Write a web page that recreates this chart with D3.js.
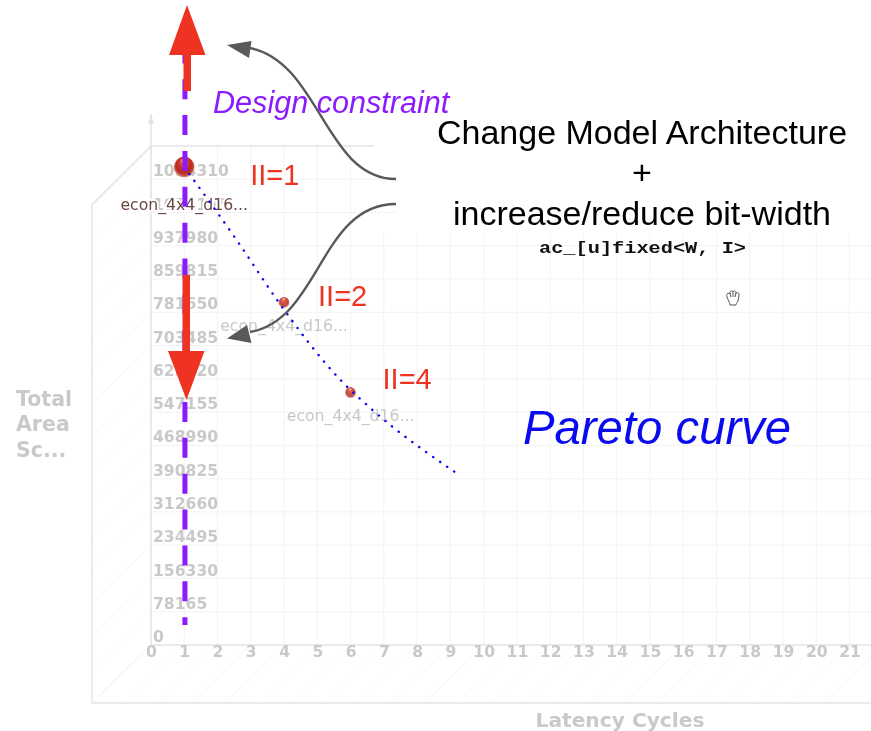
<!DOCTYPE html>
<html>
<head>
<meta charset="utf-8">
<script src="https://cdn.jsdelivr.net/npm/d3@7"></script>
<style>
  html, body { margin: 0; padding: 0; background: #fff; }
  svg { display: block; filter: blur(0.45px); }
</style>
</head>
<body>
<div id="chart"></div>
<script>
// ---- data
const latencyTicks = [0,1,2,3,4,5,6,7,8,9,10,11,12,13,14,15,16,17,18,19,20,21];
const areaTicks = [0,78165,156330,234495,312660,390825,468990,547155,625320,703485,781650,859815,937980,1016145,1094310];
const areaGrid = [...areaTicks, 1172475];

const pointLatency = [1, 4, 6];
const pointArea = [1123000, 805000, 593000];
const pointNames = ["econ_4x4_d16...", "econ_4x4_d16...", "econ_4x4_d16..."];
const pointII = ["II=1", "II=2", "II=4"];

const paretoLatency = [1, 2.62, 3.82, 5.74, 6.61, 9.2];
const paretoArea = [1123000, 946500, 807500, 619200, 555600, 403000];

const axisGrey = "#c9c9c9";
const red = "#ee3322";
const purple = "#8b1aff";

function draw() {

  //*** measurements
  const dimensions = { width: 871, height: 731 };
  const depth = { x: -59, y: 58 };

  const xScale = d3.scaleLinear().domain([0, 21]).range([151, 849.5]);
  const yScale = d3.scaleLinear().domain([0, 1172475]).range([645, 146]);

  const svg = d3.select("#chart").append("svg")
    .attr("width", dimensions.width)
    .attr("height", dimensions.height)
    .style("font-family", "'DejaVu Sans'");

  const defs = svg.append("defs");
  const ball = defs.append("radialGradient").attr("id", "ball")
    .attr("cx", "50%").attr("cy", "50%").attr("r", "50%")
    .attr("fx", "45%").attr("fy", "12%");
  ball.append("stop").attr("offset", "0%").attr("stop-color", "#f6c4b8");
  ball.append("stop").attr("offset", "32%").attr("stop-color", "#d8452f");
  ball.append("stop").attr("offset", "72%").attr("stop-color", "#b8281a");
  ball.append("stop").attr("offset", "88%").attr("stop-color", "#c64a3a");
  ball.append("stop").attr("offset", "100%").attr("stop-color", "#d9b5ae");

  //*** 3d box: floor and wall hatching
  const hatch = svg.append("g").attr("stroke", "#f6f6f6").attr("stroke-width", 1);
  hatch.selectAll(".floor").data(latencyTicks.concat([22]))
    .join("line").attr("class", "floor")
    .attr("x1", d => xScale(d)).attr("y1", yScale(0))
    .attr("x2", d => xScale(d) + depth.x).attr("y2", yScale(0) + depth.y);
  hatch.selectAll(".wall").data(areaGrid)
    .join("line").attr("class", "wall")
    .attr("x1", xScale(0)).attr("y1", d => yScale(d))
    .attr("x2", xScale(0) + depth.x).attr("y2", d => yScale(d) + depth.y);

  //*** grid
  const grid = svg.append("g").attr("stroke", "#f3f3f3").attr("stroke-width", 1);
  grid.selectAll(".v").data(latencyTicks)
    .join("line").attr("class", "v")
    .attr("x1", d => xScale(d)).attr("x2", d => xScale(d))
    .attr("y1", yScale(0))
    .attr("y2", d => d <= 6 ? yScale(1172475) : 233);
  grid.selectAll(".h").data(areaGrid.slice(1, -1))
    .join("line").attr("class", "h")
    .attr("x1", xScale(0)).attr("x2", dimensions.width)
    .attr("y1", d => yScale(d)).attr("y2", d => yScale(d));

  // the pasted text box hides the top right of the plot
  svg.append("rect")
    .attr("x", 396).attr("y", 0)
    .attr("width", dimensions.width - 396).attr("height", 233)
    .attr("fill", "#fff");

  //*** box edges
  const edges = svg.append("g").attr("stroke", "#e3e3e3").attr("fill", "none").attr("stroke-width", 1.5);
  edges.append("path")
    .attr("d", d3.line()([
      [xScale(0), yScale(1172475) - 32],
      [xScale(0), yScale(0)],
      [dimensions.width, yScale(0)]
    ]));
  edges.append("path")
    .attr("d", d3.line()([
      [374, yScale(1172475)],
      [xScale(0), yScale(1172475)],
      [xScale(0) + depth.x, yScale(1172475) + depth.y + 1],
      [xScale(0) + depth.x, yScale(0) + depth.y],
      [dimensions.width, yScale(0) + depth.y]
    ]));
  edges.append("path")
    .attr("d", d3.line()([
      [xScale(0) + depth.x, yScale(0) + depth.y],
      [xScale(0), yScale(0)]
    ]))
    .attr("stroke", "#f3f3f3").attr("stroke-width", 1);
  svg.append("path")
    .attr("d", d3.line()([
      [xScale(0) - 3, yScale(1172475) - 22],
      [xScale(0), yScale(1172475) - 32],
      [xScale(0) + 3, yScale(1172475) - 22]
    ]))
    .attr("fill", "#e3e3e3");

  //*** axes
  const xAxis = svg.append("g")
    .attr("transform", `translate(0,${yScale(0)})`)
    .call(d3.axisBottom(xScale).tickValues(latencyTicks).tickSize(0).tickPadding(0));
  const yAxis = svg.append("g")
    .attr("transform", `translate(${xScale(0)},0)`)
    .call(d3.axisRight(yScale).tickValues(areaTicks).tickFormat(d3.format("d")).tickSize(0).tickPadding(2));
  xAxis.select(".domain").remove();
  yAxis.select(".domain").remove();
  xAxis.selectAll("text").attr("dy", "0.75em");
  yAxis.selectAll("text").attr("dy", "-0.22em");
  svg.selectAll(".tick text")
    .style("font-family", "'DejaVu Sans'")
    .style("font-size", "15.6px")
    .style("font-weight", "bold")
    .attr("fill", axisGrey);

  svg.append("text")
    .attr("x", 620).attr("y", 727)
    .attr("text-anchor", "middle")
    .style("font-size", "20.2px").style("font-weight", "bold")
    .attr("fill", axisGrey)
    .text("Latency Cycles");

  svg.append("text").selectAll("tspan")
    .data(["Total", "Area", "Sc..."])
    .join("tspan")
    .attr("x", 16).attr("y", (d, i) => 405.5 + i * 25.5)
    .style("font-size", "20.5px").style("font-weight", "bold")
    .attr("fill", axisGrey)
    .text(d => d);

  //*** point names sit under the curve
  svg.selectAll(".name").data(pointNames)
    .join("text").attr("class", "name")
    .attr("x", (d, i) => xScale(pointLatency[i]))
    .attr("y", (d, i) => yScale(pointArea[i]))
    .attr("dy", (d, i) => [42.5, 28.5, 28][i])
    .attr("text-anchor", "middle")
    .style("font-size", "15.7px")
    .style("paint-order", "stroke")
    .attr("stroke", (d, i) => i == 0 ? "#fff" : "none")
    .attr("stroke-width", 4)
    .attr("fill", (d, i) => i == 0 ? "#6b4544" : "#c8c8c8")
    .text(d => d);

  //*** spheres
  svg.selectAll(".point").data(pointLatency)
    .join("circle").attr("class", "point")
    .attr("cx", d => xScale(d))
    .attr("cy", (d, i) => yScale(pointArea[i]))
    .attr("r", (d, i) => i == 0 ? 10.5 : 5.5)
    .attr("fill", "url(#ball)")
    .attr("opacity", (d, i) => i == 0 ? 1 : 0.85);

  //*** pareto curve
  const pareto = d3.line()
    .x(d => xScale(d[0]))
    .y(d => yScale(d[1]))
    .curve(d3.curveMonotoneX);
  svg.append("path")
    .attr("d", pareto(d3.zip(paretoLatency, paretoArea)))
    .attr("fill", "none")
    .attr("stroke", "#0a0aee")
    .attr("stroke-width", 2.4)
    .attr("stroke-linecap", "round")
    .attr("stroke-dasharray", "0.2 8.35");

  //*** design constraint line and the red arrows
  const constraintX = xScale(1.02);
  svg.append("line")
    .attr("x1", constraintX).attr("x2", constraintX)
    .attr("y1", 43.4).attr("y2", 625)
    .attr("stroke", purple)
    .attr("stroke-width", 5)
    .attr("stroke-dasharray", "20 15.86");

  const arrows = svg.append("g").attr("fill", red);
  arrows.append("rect").attr("x", 183.5).attr("y", 50).attr("width", 7.5).attr("height", 41);
  arrows.append("path").attr("d", "M187,5L205.5,55L169,55Z");
  arrows.append("rect").attr("x", 182.5).attr("y", 275).attr("width", 7.5).attr("height", 80);
  arrows.append("path").attr("d", "M186.5,400L204.5,351L168,351Z");

  //*** grey curved arrows
  const curves = svg.append("g").attr("fill", "none").attr("stroke", "#595959").attr("stroke-width", 2.4);
  curves.append("path").attr("d", "M396,179C325,179 320,62 250,48");
  curves.append("path").attr("d", "M396,204C320,204 320,320 250,332");
  const heads = svg.append("g").attr("fill", "#595959");
  heads.append("path").attr("d", "M227,45L251.5,41L249,58Z");
  heads.append("path").attr("d", "M227,338.5L247,325L251.5,343Z");

  //*** annotation text
  const sans = "'Liberation Sans'";
  svg.selectAll(".ii").data(pointII)
    .join("text").attr("class", "ii")
    .attr("x", (d, i) => xScale(pointLatency[i]))
    .attr("y", (d, i) => yScale(pointArea[i]))
    .attr("dx", (d, i) => [66, 34, 32][i])
    .attr("dy", (d, i) => [18, 4, -4][i])
    .style("font-family", sans).style("font-size", "29px")
    .attr("fill", red)
    .text(d => d);

  svg.append("text")
    .attr("x", 213).attr("y", 113)
    .style("font-family", sans).style("font-size", "30.6px").style("font-style", "italic")
    .attr("fill", purple)
    .text("Design constraint");

  const title = svg.append("g").attr("text-anchor", "middle").attr("fill", "#000")
    .style("font-family", sans).style("font-size", "34px");
  title.append("text").attr("x", 642).attr("y", 144).text("Change Model Architecture");
  title.append("text").attr("x", 642).attr("y", 184).text("+");
  title.append("text").attr("x", 642).attr("y", 225).text("increase/reduce bit-width");

  svg.append("text")
    .attr("x", 642.5).attr("y", 253)
    .attr("text-anchor", "middle")
    .style("font-family", "'Liberation Mono'").style("font-size", "17px").style("font-weight", "bold")
    .attr("textLength", 207).attr("lengthAdjust", "spacingAndGlyphs")
    .attr("fill", "#111")
    .text("ac_[u]fixed<W, I>");

  svg.append("text")
    .attr("x", 523).attr("y", 444)
    .style("font-family", sans).style("font-size", "47.3px").style("font-style", "italic")
    .attr("fill", "#0a0aee")
    .text("Pareto curve");

  //*** the little hand cursor left in the screenshot
  svg.append("path")
    .attr("transform", "translate(733,298)")
    .attr("d", "M-6,-1C-7,-4 -5,-6 -4,-4L-3,-6C-2,-8 0,-7 0,-6C1,-8 3,-7 3,-5C5,-6 6,-5 6,-3L5,3C4,5 3,6 3,7L-3,7C-3,5 -5,2 -6,-1ZM-3,-5L-2,-1M0,-6L0,-1M3,-5L2,-1")
    .attr("fill", "#fff")
    .attr("stroke", "#555")
    .attr("stroke-width", 1);
}
draw();
</script>
</body>
</html>
